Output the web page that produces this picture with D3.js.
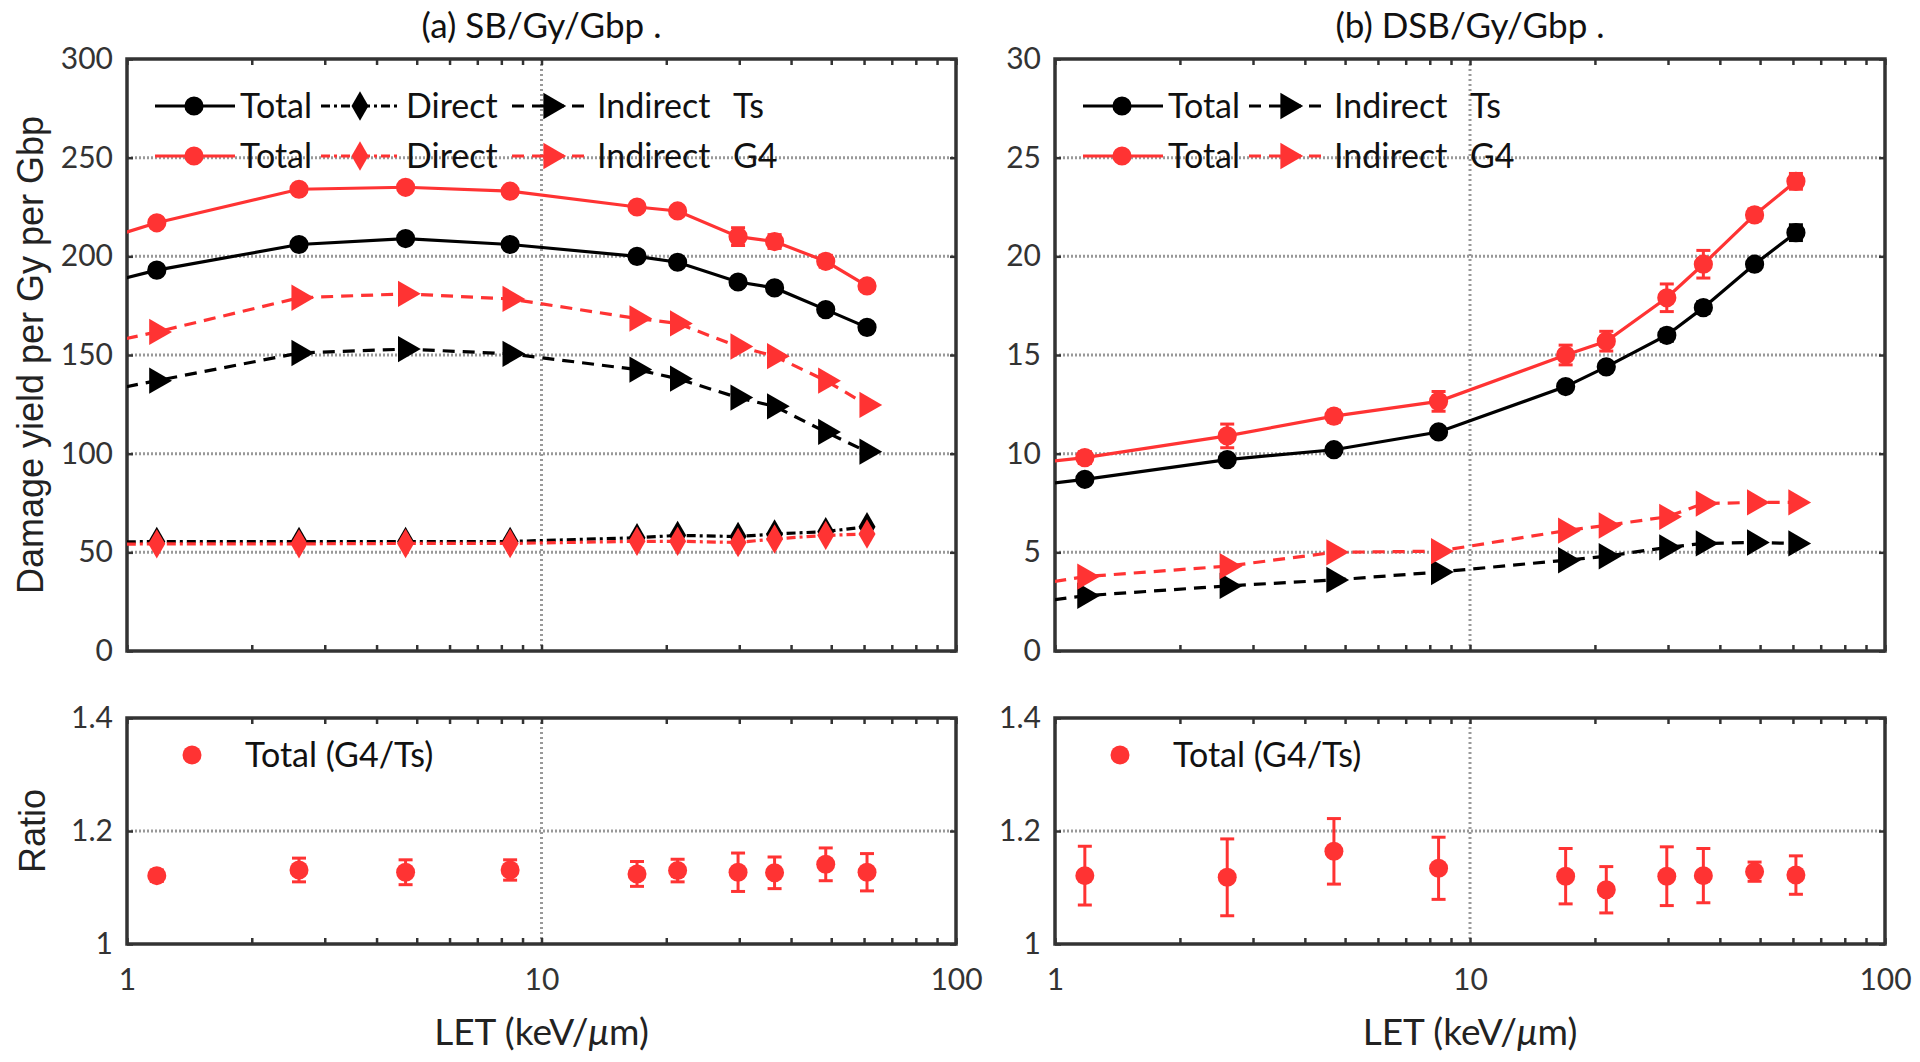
<!DOCTYPE html>
<html>
<head>
<meta charset="utf-8">
<script src="https://cdn.jsdelivr.net/npm/d3@7.9.0/dist/d3.min.js"></script>
<style>
  body { margin: 0; background: #fff; }
  svg { display: block; }
  .tick text { font-family: Lato, sans-serif; font-size: 30px; fill: #333; }
</style>
</head>
<body>
<svg id="chart" width="1920" height="1062"></svg>
<script>
// LET values (keV/um); the first one sits left of the axis and is clipped
const LET = [0.8, 1.18, 2.6, 4.7, 8.4, 17, 21.3, 29.8, 36.5, 48.5, 61];

// (a) SB/Gy/Gbp
const sbTotalTs = [184, 193, 206, 209, 206, 200, 197, 187, 184, 173, 164];
const sbTotalTsErr = [0, 1, 1, 1, 1, 1, 1.5, 2, 2, 2, 2.5];
const sbTotalG4 = [206, 217, 234, 235, 233, 225, 223, 210, 207.5, 197.5, 185];
const sbTotalG4Err = [0, 1.5, 2, 1.5, 1.5, 2, 2, 4.5, 3.5, 3, 2.5];
const sbDirectTs = [55, 55.5, 55.5, 55.5, 55.5, 57.4, 58.6, 58, 59.3, 60.5, 63];
const sbDirectG4 = [54, 54.3, 54.3, 54.5, 54.5, 55.6, 55.6, 55, 56.8, 58.6, 59.3];
const sbIndirectTs = [130, 137, 151, 153, 150.6, 142.6, 138, 128.4, 124, 111, 101];
const sbIndirectG4 = [154, 161.7, 179, 181, 178.4, 168.5, 166, 154.3, 149.4, 137, 124.7];

// (b) DSB/Gy/Gbp
const dsbTotalTs = [8.27, 8.7, 9.7, 10.2, 11.1, 13.4, 14.4, 16.0, 17.4, 19.6, 21.2];
const dsbTotalTsErr = [0, 0.2, 0.2, 0.2, 0.2, 0.2, 0.2, 0.3, 0.3, 0.2, 0.4];
const dsbTotalG4 = [9.4, 9.8, 10.9, 11.9, 12.65, 15.0, 15.7, 17.9, 19.6, 22.1, 23.8];
const dsbTotalG4Err = [0, 0.3, 0.6, 0.3, 0.5, 0.5, 0.5, 0.7, 0.7, 0.3, 0.4];
const dsbIndirectTs = [2.35, 2.8, 3.3, 3.6, 4.0, 4.6, 4.8, 5.25, 5.45, 5.5, 5.45];
const dsbIndirectG4 = [3.2, 3.77, 4.3, 5.0, 5.06, 6.1, 6.36, 6.8, 7.47, 7.53, 7.53];

// ratio G4/Ts (visible points only)
const sbRatio = [1.121, 1.131, 1.127, 1.131, 1.124, 1.130, 1.127, 1.126, 1.141, 1.127];
const sbRatioErr = [0.01, 0.021, 0.022, 0.018, 0.022, 0.02, 0.034, 0.028, 0.029, 0.033];
const dsbRatio = [1.121, 1.118, 1.164, 1.134, 1.12, 1.096, 1.12, 1.121, 1.128, 1.122];
const dsbRatioErr = [0.052, 0.068, 0.058, 0.055, 0.049, 0.041, 0.052, 0.048, 0.017, 0.034];

const xTicks = [1, 10, 100];
const sbTicks = [0, 50, 100, 150, 200, 250, 300];
const dsbTicks = [0, 5, 10, 15, 20, 25, 30];
const ratioTicks = [1, 1.2, 1.4];

const RED = '#ff3333';
const BLACK = '#000';
const svg = d3.select('#chart');

const panels = [
  {
    id: 'a', title: '(a) SB/Gy/Gbp .', left: 127, right: 956, ymax: 300, yTicks: sbTicks,
    series: [
      { name: 'Total', v: sbTotalTs, err: sbTotalTsErr, color: BLACK, dash: null, sym: 'circle', col: 0, row: 0 },
      { name: 'Direct', v: sbDirectTs, err: null, color: BLACK, dash: '9,4,3,4', sym: 'diamond', col: 1, row: 0 },
      { name: 'Indirect', v: sbIndirectTs, err: null, color: BLACK, dash: '12,8', sym: 'triangle', col: 2, row: 0, suffix: 'Ts' },
      { name: 'Total', v: sbTotalG4, err: sbTotalG4Err, color: RED, dash: null, sym: 'circle', col: 0, row: 1 },
      { name: 'Direct', v: sbDirectG4, err: null, color: RED, dash: '9,4,3,4', sym: 'diamond', col: 1, row: 1 },
      { name: 'Indirect', v: sbIndirectG4, err: null, color: RED, dash: '12,8', sym: 'triangle', col: 2, row: 1, suffix: 'G4' }
    ],
    ratio: sbRatio, ratioErr: sbRatioErr
  },
  {
    id: 'b', title: '(b) DSB/Gy/Gbp .', left: 1055, right: 1885, ymax: 30, yTicks: dsbTicks,
    series: [
      { name: 'Total', v: dsbTotalTs, err: dsbTotalTsErr, color: BLACK, dash: null, sym: 'circle', col: 0, row: 0 },
      { name: 'Indirect', v: dsbIndirectTs, err: null, color: BLACK, dash: '12,8', sym: 'triangle', col: 1, row: 0, suffix: 'Ts' },
      { name: 'Total', v: dsbTotalG4, err: dsbTotalG4Err, color: RED, dash: null, sym: 'circle', col: 0, row: 1 },
      { name: 'Indirect', v: dsbIndirectG4, err: null, color: RED, dash: '12,8', sym: 'triangle', col: 1, row: 1, suffix: 'G4' }
    ],
    ratio: dsbRatio, ratioErr: dsbRatioErr
  }
];

const topY = [651, 59];
const ratioY = [944, 718];
const legendCols = [28, 194, 385];
const legendRows = [106, 156];

function symbolPath(sym) {
  if (sym === 'circle') return d3.symbol(d3.symbolCircle, 290)();
  if (sym === 'diamond') return d3.symbol(d3.symbolDiamond, 250)();
  return d3.symbol(d3.symbolTriangle, 300)();
}
function symbolTransform(sym, x, y) {
  return sym === 'triangle' ? `translate(${x},${y}) rotate(90)` : `translate(${x},${y})`;
}

function frame(g, x, y, yTicks, fmt, withLabels) {
  const [x0, x1] = x.range();
  const [yb, yt] = y.range();
  const minor = d3.range(1, 10).concat(d3.range(10, 101, 10));

  // dotted grid
  g.append('g').selectAll('line').data(yTicks.filter(t => t !== y.domain()[0] && t !== y.domain()[1]))
    .join('line')
    .attr('x1', x0).attr('x2', x1).attr('y1', d => y(d)).attr('y2', d => y(d))
    .attr('stroke', '#999').attr('stroke-width', 3).attr('stroke-dasharray', '2,2');
  g.append('line')
    .attr('x1', x(10)).attr('x2', x(10)).attr('y1', yb).attr('y2', yt)
    .attr('stroke', '#999').attr('stroke-width', 3).attr('stroke-dasharray', '2,3');

  const bottom = d3.axisBottom(x).tickValues(minor).tickSize(-6).tickPadding(25)
    .tickFormat(d => withLabels && xTicks.includes(d) ? d3.format('d')(d) : '');
  g.append('g').attr('transform', `translate(0,${yb})`).call(bottom);
  g.append('g').attr('transform', `translate(0,${yt})`)
    .call(d3.axisTop(x).tickValues(minor).tickSize(-6).tickFormat(''));
  g.append('g').attr('transform', `translate(${x0},0)`)
    .call(d3.axisLeft(y).tickValues(yTicks).tickSize(-6).tickPadding(14).tickFormat(fmt));
  g.append('g').attr('transform', `translate(${x1},0)`)
    .call(d3.axisRight(y).tickValues(yTicks).tickSize(-6).tickFormat(''));
  g.selectAll('.domain').remove();
  g.selectAll('.tick line').attr('stroke', '#333').attr('stroke-width', 2.5);

  g.append('rect')
    .attr('x', x0).attr('y', yt).attr('width', x1 - x0).attr('height', yb - yt)
    .attr('fill', 'none').attr('stroke', '#333').attr('stroke-width', 3.5);
}

panels.forEach(p => {
  const g = svg.append('g');
  const x = d3.scaleLog().domain([1, 100]).range([p.left, p.right]);
  const y = d3.scaleLinear().domain([0, p.ymax]).range(topY);
  const yr = d3.scaleLinear().domain([1, 1.4]).range(ratioY);

  g.append('clipPath').attr('id', 'clip-' + p.id)
    .append('rect').attr('x', p.left).attr('y', topY[1]).attr('width', p.right - p.left).attr('height', topY[0] - topY[1]);

  frame(g, x, y, p.yTicks, d3.format('d'), false);

  const plot = g.append('g').attr('clip-path', `url(#clip-${p.id})`);
  const line = d3.line().x((d, i) => x(LET[i])).y(d => y(d));

  p.series.forEach(s => {
    plot.append('path')
      .attr('d', line(s.v))
      .attr('fill', 'none').attr('stroke', s.color).attr('stroke-width', 3.2)
      .attr('stroke-dasharray', s.dash);
    if (s.err) {
      const eg = plot.append('g').attr('stroke', s.color).attr('stroke-width', 3);
      s.v.forEach((v, i) => {
        if (!s.err[i]) return;
        const cx = x(LET[i]);
        eg.append('line').attr('x1', cx).attr('x2', cx).attr('y1', y(v - s.err[i])).attr('y2', y(v + s.err[i]));
        [v - s.err[i], v + s.err[i]].forEach(e =>
          eg.append('line').attr('x1', cx - 7).attr('x2', cx + 7).attr('y1', y(e)).attr('y2', y(e)));
      });
    }
    plot.append('g').selectAll('path').data(s.v).join('path')
      .attr('d', symbolPath(s.sym))
      .attr('transform', (d, i) => symbolTransform(s.sym, x(LET[i]), y(d)))
      .attr('fill', s.color);
  });

  // legend
  const lg = g.append('g').attr('font-family', 'Lato, sans-serif').attr('font-size', 34);
  p.series.forEach(s => {
    const lx = p.left + legendCols[s.col];
    const ly = legendRows[s.row];
    lg.append('line').attr('x1', lx).attr('x2', lx + 80).attr('y1', ly).attr('y2', ly)
      .attr('stroke', s.color).attr('stroke-width', 3.2).attr('stroke-dasharray', s.dash);
    lg.append('path').attr('d', symbolPath(s.sym)).attr('transform', symbolTransform(s.sym, lx + 39, ly)).attr('fill', s.color);
    lg.append('text').attr('x', lx + 85).attr('y', ly).attr('dy', '0.36em').attr('fill', '#111').text(s.name);
    if (s.suffix) {
      lg.append('text').attr('x', lx + 85 + 136).attr('y', ly).attr('dy', '0.36em').attr('fill', '#111').text(s.suffix);
    }
  });

  g.append('text')
    .attr('x', (p.left + p.right) / 2).attr('y', 25).attr('dy', '0.36em')
    .attr('text-anchor', 'middle').attr('font-family', 'Lato, sans-serif').attr('font-size', 35).attr('fill', '#111')
    .text(p.title);

  // ratio panel
  const rg = svg.append('g');
  frame(rg, x, yr, ratioTicks, d => d === 1 ? '1' : d3.format('.1f')(d), true);
  const LETr = LET.slice(1);
  const reg = rg.append('g').attr('stroke', RED).attr('stroke-width', 3);
  p.ratio.forEach((v, i) => {
    const cx = x(LETr[i]);
    const e = p.ratioErr[i];
    reg.append('line').attr('x1', cx).attr('x2', cx).attr('y1', yr(v - e)).attr('y2', yr(v + e));
    [v - e, v + e].forEach(t => reg.append('line').attr('x1', cx - 7).attr('x2', cx + 7).attr('y1', yr(t)).attr('y2', yr(t)));
  });
  rg.append('g').selectAll('circle').data(p.ratio).join('circle')
    .attr('cx', (d, i) => x(LETr[i])).attr('cy', d => yr(d)).attr('r', 9.5).attr('fill', RED);

  rg.append('circle').attr('cx', p.left + 65).attr('cy', 755).attr('r', 9.5).attr('fill', RED);
  rg.append('text').attr('x', p.left + 118).attr('y', 755).attr('dy', '0.36em')
    .attr('font-family', 'Lato, sans-serif').attr('font-size', 34).attr('fill', '#111').text('Total (G4/Ts)');

  const xl = rg.append('text')
    .attr('x', (p.left + p.right) / 2).attr('y', 1032).attr('dy', '0.36em')
    .attr('text-anchor', 'middle').attr('font-family', 'Lato, sans-serif').attr('font-size', 37).attr('fill', '#222');
  xl.append('tspan').text('LET (keV/');
  xl.append('tspan').attr('font-style', 'italic').text('μ');
  xl.append('tspan').text('m)');
});

svg.append('text')
  .attr('transform', 'translate(30,355) rotate(-90)').attr('dy', '0.36em')
  .attr('text-anchor', 'middle').attr('font-family', '"Liberation Sans", Arial, sans-serif').attr('font-size', 36).attr('fill', '#222')
  .text('Damage yield per Gy per Gbp');
svg.append('text')
  .attr('transform', 'translate(32,831) rotate(-90)').attr('dy', '0.36em')
  .attr('text-anchor', 'middle').attr('font-family', '"Liberation Sans", Arial, sans-serif').attr('font-size', 36).attr('fill', '#222')
  .text('Ratio');
</script>
</body>
</html>
